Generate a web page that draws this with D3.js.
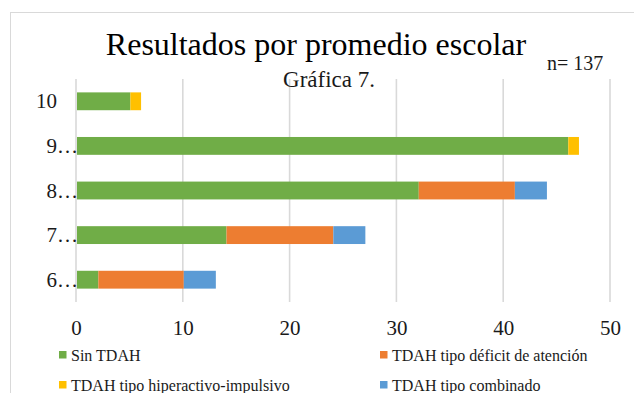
<!DOCTYPE html>
<html>
<head>
<meta charset="utf-8">
<script src="https://cdn.jsdelivr.net/npm/d3@7"></script>
<style>
  html, body { margin: 0; padding: 0; background: #fff; }
  svg text { font-family: "Liberation Serif", "Times New Roman", Times, "Tinos", "DejaVu Serif", "Noto Serif", serif; }
</style>
</head>
<body>
<svg id="chart" width="634" height="393"></svg>
<script>
// Grade-average groups (labels as shown on the axis, truncated)
const categories = ["10", "9…", "8…", "7…", "6…"];
const seriesNames = [
  "Sin TDAH",
  "TDAH tipo déficit de atención",
  "TDAH tipo hiperactivo-impulsivo",
  "TDAH tipo combinado"
];
const sinTDAH         = [5, 46, 32, 14, 2];
const deficitAtencion = [0, 0, 9, 10, 8];
const hiperactivo     = [1, 1, 0, 0, 0];
const combinado       = [0, 0, 3, 3, 3];
const xTicks = [0, 10, 20, 30, 40, 50];
const colors = ["#70ad47", "#ed7d31", "#ffc000", "#5b9bd5"];

const rows = categories.map((c, i) => ({
  cat: c,
  [seriesNames[0]]: sinTDAH[i],
  [seriesNames[1]]: deficitAtencion[i],
  [seriesNames[2]]: hiperactivo[i],
  [seriesNames[3]]: combinado[i]
}));

const svg = d3.select("#chart");

// chart frame
svg.append("rect")
  .attr("x", 10.5).attr("y", 12.5)
  .attr("width", 700).attr("height", 500)
  .attr("fill", "none").attr("stroke", "#d9d9d9").attr("stroke-width", 1);

const x = d3.scaleLinear().domain([0, 50]).range([76, 610]);
const y = d3.scaleBand().domain(categories).range([79, 302])
  .paddingInner(0.6).paddingOuter(0.3);
const color = d3.scaleOrdinal().domain(seriesNames).range(colors);

// vertical gridlines
svg.append("g").selectAll("line").data(xTicks).join("line")
  .attr("x1", d => x(d)).attr("x2", d => x(d))
  .attr("y1", 79).attr("y2", 302)
  .attr("stroke", "#d9d9d9").attr("stroke-width", 1.6);

// stacked bars
const stack = d3.stack().keys(seriesNames)(rows);
svg.append("g").selectAll("g").data(stack).join("g")
  .attr("fill", d => color(d.key))
  .selectAll("rect").data(d => d).join("rect")
  .attr("x", d => x(d[0]) + 1)
  .attr("y", d => y(d.data.cat))
  .attr("width", d => Math.max(0, x(d[1]) - x(d[0])))
  .attr("height", y.bandwidth());

// x-axis tick labels
const xAxis = d3.axisBottom(x).tickValues(xTicks).tickSize(0).tickPadding(0);
const gx = svg.append("g").attr("transform", "translate(0,320)").call(xAxis);
gx.attr("font-family", null);
gx.select(".domain").remove();
gx.selectAll("text")
  .attr("dy", 0).attr("y", 15)
  .attr("font-size", 21).attr("fill", "#1a1a1a");

// category labels: number right-aligned, ellipsis hanging after it
const cl = svg.append("g").selectAll("g").data(categories).join("g")
  .attr("transform", d => `translate(57,${y(d) + y.bandwidth() / 2 + 7})`);
cl.append("text")
  .attr("text-anchor", "end").attr("font-size", 21).attr("fill", "#1a1a1a")
  .text(d => d.replace("…", ""));
cl.filter(d => d.endsWith("…")).append("text")
  .attr("text-anchor", "start").attr("font-size", 21).attr("fill", "#1a1a1a")
  .text("…");

// titles
svg.append("text").attr("x", 316).attr("y", 55).attr("text-anchor", "middle")
  .attr("font-size", 32).attr("fill", "#000").text("Resultados por promedio escolar");
svg.append("text").attr("x", 329).attr("y", 87).attr("text-anchor", "middle")
  .attr("font-size", 23).attr("fill", "#1a1a1a").text("Gráfica 7.");
svg.append("text").attr("x", 547).attr("y", 70).attr("text-anchor", "start")
  .attr("font-size", 20).attr("fill", "#1a1a1a").text("n= 137");

// legend
const legendPos = [[59, 355], [380, 355], [59, 385], [380, 385]];
const lg = svg.append("g").selectAll("g").data(seriesNames).join("g")
  .attr("transform", (d, i) => `translate(${legendPos[i][0]},${legendPos[i][1]})`);
lg.append("rect").attr("x", 0).attr("y", -4).attr("width", 7.5).attr("height", 7.5)
  .attr("fill", d => color(d));
lg.append("text").attr("x", 12).attr("y", 6).attr("font-size", 16).attr("fill", "#1a1a1a")
  .text(d => d);
</script>
</body>
</html>
